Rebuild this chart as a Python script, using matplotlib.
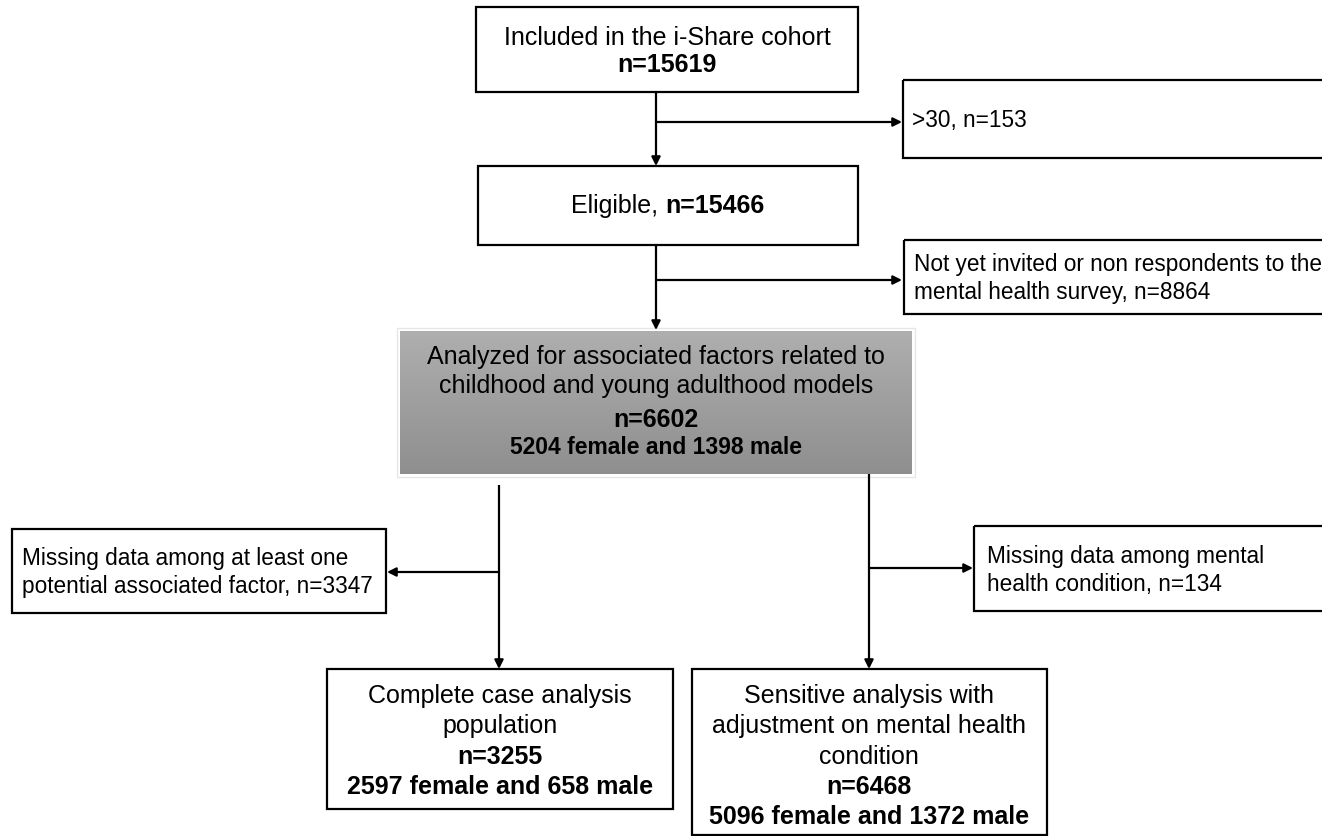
import numpy as np
import matplotlib
matplotlib.use("Agg")
import matplotlib.pyplot as plt
from matplotlib.patches import Rectangle

plt.rcParams['font.family'] = ['Liberation Sans', 'DejaVu Sans']

# flow counts
n_cohort = 15619
n_over30 = 153
n_eligible = 15466
n_nonresp = 8864
n_analyzed = 6602
sex_analyzed = [5204, 1398]
n_missing_factor = 3347
n_missing_mental = 134
n_complete = 3255
sex_complete = [2597, 658]
n_sensitive = 6468
sex_sensitive = [5096, 1372]

fig = plt.figure(figsize=(13.22, 8.36), dpi=100)
ax = fig.add_axes([0, 0, 1, 1])
ax.set_xlim(0, 1322)
ax.set_ylim(836, 0)
ax.axis('off')

LW = 1.6
BIG = 18
SIDE = 16.3


def box(x0, y0, x1, y1):
    ax.add_patch(Rectangle((x0, y0), x1 - x0, y1 - y0, fill=False,
                           edgecolor='black', lw=LW, zorder=3))


def arrow(p0, p1):
    ax.annotate('', xy=p1, xytext=p0,
                arrowprops=dict(arrowstyle='-|>', color='black', lw=LW,
                                mutation_scale=13, shrinkA=0, shrinkB=0),
                zorder=4)


def line(p0, p1):
    ax.plot([p0[0], p1[0]], [p0[1], p1[1]], color='black', lw=LW, zorder=4,
            solid_capstyle='butt')


def lines(x, ys, texts, weights, size, ha='center'):
    for y, t, w in zip(ys, texts, weights):
        ax.text(x, y, t, ha=ha, va='center', fontsize=size, fontweight=w)


# top box
box(476, 7, 858, 92)
lines(667, [38, 65], ['Included in the i-Share cohort', f'n={n_cohort}'],
      ['normal', 'bold'], BIG)
arrow((656, 92), (656, 166))
arrow((656, 122), (902, 122))

box(903, 80, 1330, 158)
ax.text(912, 120, f'>30, n={n_over30}', ha='left', va='center', fontsize=SIDE)

# eligible
box(478, 166, 858, 245)
ax.text(665, 206, 'Eligible, ', ha='right', va='center', fontsize=BIG)
ax.text(665, 206, f'n={n_eligible}', ha='left', va='center', fontsize=BIG,
        fontweight='bold')
arrow((656, 245), (656, 330))
arrow((656, 280), (902, 280))

box(904, 240, 1330, 314)
lines(914, [264, 292], ['Not yet invited or non respondents to the',
                        f'mental health survey, n={n_nonresp}'],
      ['normal', 'normal'], SIDE, ha='left')

# analyzed (vertical grey gradient box)
shade = np.linspace(0.685, 0.56, 100)
grad = np.repeat(shade[:, None, None], 3, axis=2)
ax.imshow(grad, aspect='auto', extent=(400, 912, 474, 331), zorder=1,
          interpolation='bilinear')
ax.add_patch(Rectangle((397, 328), 518, 149, fill=False, edgecolor='#e6e6e6',
                       lw=1, zorder=0))
lines(656, [357, 386, 420],
      ['Analyzed for associated factors related to',
       'childhood and young adulthood models', f'n={n_analyzed}'],
      ['normal', 'normal', 'bold'], BIG)
ax.text(656, 448, f'{sex_analyzed[0]} female and {sex_analyzed[1]} male',
        ha='center', va='center', fontsize=16.5, fontweight='bold')

# left branch
line((499, 485), (499, 572))
arrow((499, 572), (499, 669))
arrow((499, 572), (387, 572))
box(12, 529, 386, 613)
lines(22, [558, 587], ['Missing data among at least one',
                       f'potential associated factor, n={n_missing_factor}'],
      ['normal', 'normal'], SIDE, ha='left')

# right branch
line((869, 474), (869, 568))
arrow((869, 568), (869, 669))
arrow((869, 568), (973, 568))
box(974, 526, 1330, 611)
lines(987, [557, 584], ['Missing data among mental',
                        f'health condition, n={n_missing_mental}'],
      ['normal', 'normal'], SIDE, ha='left')

# bottom boxes
box(327, 669, 673, 809)
lines(500, [696, 726, 757, 787],
      ['Complete case analysis', 'population', f'n={n_complete}',
       f'{sex_complete[0]} female and {sex_complete[1]} male'],
      ['normal', 'normal', 'bold', 'bold'], BIG)

box(692, 669, 1047, 835)
lines(869, [696, 726, 757, 787, 817],
      ['Sensitive analysis with', 'adjustment on mental health', 'condition',
       f'n={n_sensitive}',
       f'{sex_sensitive[0]} female and {sex_sensitive[1]} male'],
      ['normal', 'normal', 'normal', 'bold', 'bold'], BIG)

fig.savefig('out.png', dpi=100)
